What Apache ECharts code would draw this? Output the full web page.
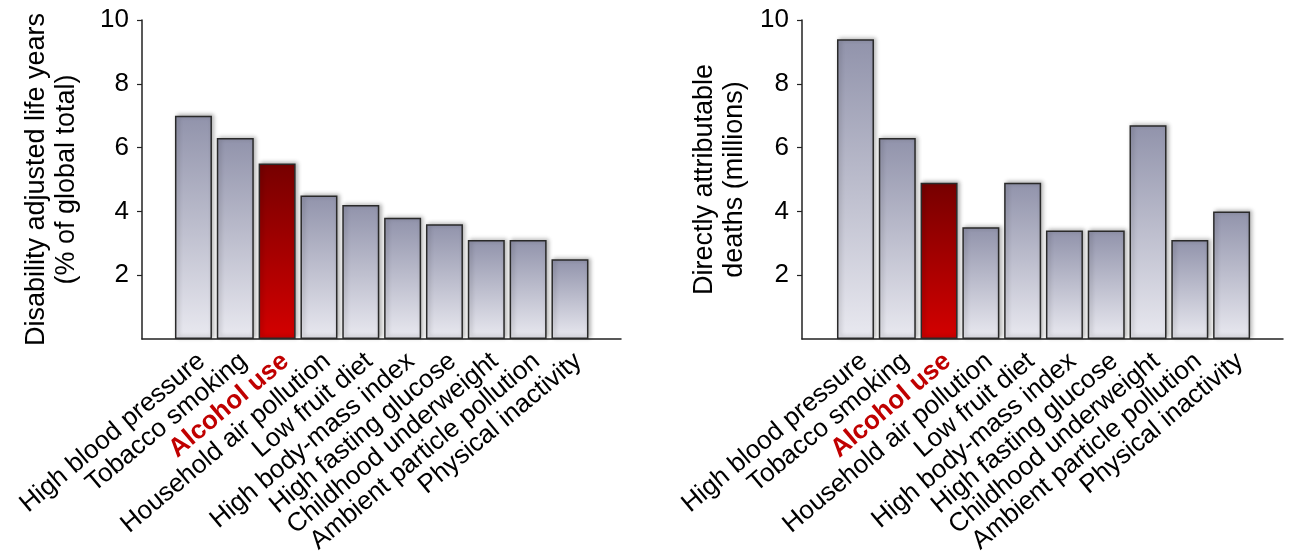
<!DOCTYPE html>
<html>
<head>
<meta charset="utf-8">
<script src="https://cdn.jsdelivr.net/npm/echarts@6/dist/echarts.min.js"></script>
<style>
  html, body { margin: 0; padding: 0; background: #fff; }
  #chart { width: 1290px; height: 551px; }
</style>
</head>
<body>
<div id="chart"></div>
<script>
// ---- data ----
const categories = [
  'High blood pressure', 'Tobacco smoking', 'Alcohol use', 'Household air pollution',
  'Low fruit diet', 'High body-mass index', 'High fasting glucose',
  'Childhood underweight', 'Ambient particle pollution', 'Physical inactivity'
];
const dalyValues  = [7.0, 6.3, 5.5, 4.5, 4.2, 3.8, 3.6, 3.1, 3.1, 2.5];
const deathValues = [9.4, 6.3, 4.9, 3.5, 4.9, 3.4, 3.4, 6.7, 3.1, 4.0];
const yTicks = [2, 4, 6, 8, 10];
const highlight = 'Alcohol use';
const leftTitle = 'Disability adjusted life years\n(% of global total)';
const rightTitle = 'Directly attributable\ndeaths (millions)';

// ---- styling ----
const FONT = '"Liberation Sans", Arial, Helvetica, sans-serif';
const grayGrad = new echarts.graphic.LinearGradient(0, 0, 0, 1, [
  { offset: 0, color: '#9193ab' },
  { offset: 1, color: '#e9e9f0' }
]);
const redGrad = new echarts.graphic.LinearGradient(0, 0, 0, 1, [
  { offset: 0, color: '#760000' },
  { offset: 1, color: '#d40000' }
]);
const catIdx = categories.map((_, i) => i);

function makeData(values) {
  return values.map((v, i) => ({
    value: [i, v],
    itemStyle: { color: categories[i] === highlight ? redGrad : grayGrad }
  }));
}

function xAxis(gridIndex, min, max) {
  return {
    type: 'value', gridIndex, min, max,
    axisLine: { show: true, onZero: false, lineStyle: { color: '#222', width: 1.5 } },
    axisTick: { show: false },
    splitLine: { show: false },
    axisLabel: {
      customValues: catIdx,
      rotate: 40,
      align: 'right',
      verticalAlign: 'top',
      margin: 9,
      fontSize: 26,
      fontFamily: FONT,
      color: '#000',
      hideOverlap: false,
      formatter: v => {
        const name = categories[Math.round(v)];
        return name === highlight ? '{r|' + name + '}' : '{n|' + name + '}';
      },
      rich: {
        n: { fontSize: 26, fontFamily: FONT, color: '#000' },
        r: { fontSize: 26, fontFamily: FONT, color: '#c00000', fontWeight: 'bold' }
      }
    }
  };
}

function yAxis(gridIndex, name, gap) {
  return {
    type: 'value', gridIndex, min: 0, max: 10, interval: 2,
    name, nameLocation: 'middle', nameRotate: 90, nameGap: gap,
    nameTextStyle: { fontSize: 27, fontFamily: FONT, color: '#000', lineHeight: 30 },
    axisLine: { show: true, onZero: false, lineStyle: { color: '#222', width: 1.5 } },
    axisTick: { show: true, customValues: yTicks, length: 5, lineStyle: { color: '#222', width: 1.2 } },
    axisLabel: { customValues: yTicks, margin: 13, fontSize: 26, fontFamily: FONT, color: '#000' },
    splitLine: { show: false }
  };
}

const barItem = {
  borderColor: '#2a2a2a', borderWidth: 1.5,
  shadowBlur: 4, shadowColor: 'rgba(0,0,0,0.28)', shadowOffsetX: 2, shadowOffsetY: -1
};

const chart = echarts.init(document.getElementById('chart'), null, { renderer: 'canvas' });
chart.setOption({
  animation: false,
  backgroundColor: '#fff',
  grid: [
    { left: 142, top: 20, width: 479, height: 319, containLabel: false, outerBoundsMode: 'none' },
    { left: 802, top: 20, width: 481, height: 319, containLabel: false, outerBoundsMode: 'none' }
  ],
  xAxis: [xAxis(0, -1.23, 10.22), xAxis(1, -1.28, 10.23)],
  yAxis: [yAxis(0, leftTitle, 60), yAxis(1, rightTitle, 52)],
  series: [
    { type: 'bar', xAxisIndex: 0, yAxisIndex: 0, barWidth: 37, data: makeData(dalyValues), itemStyle: barItem },
    { type: 'bar', xAxisIndex: 1, yAxisIndex: 1, barWidth: 37, data: makeData(deathValues), itemStyle: barItem }
  ]
});
</script>
</body>
</html>
